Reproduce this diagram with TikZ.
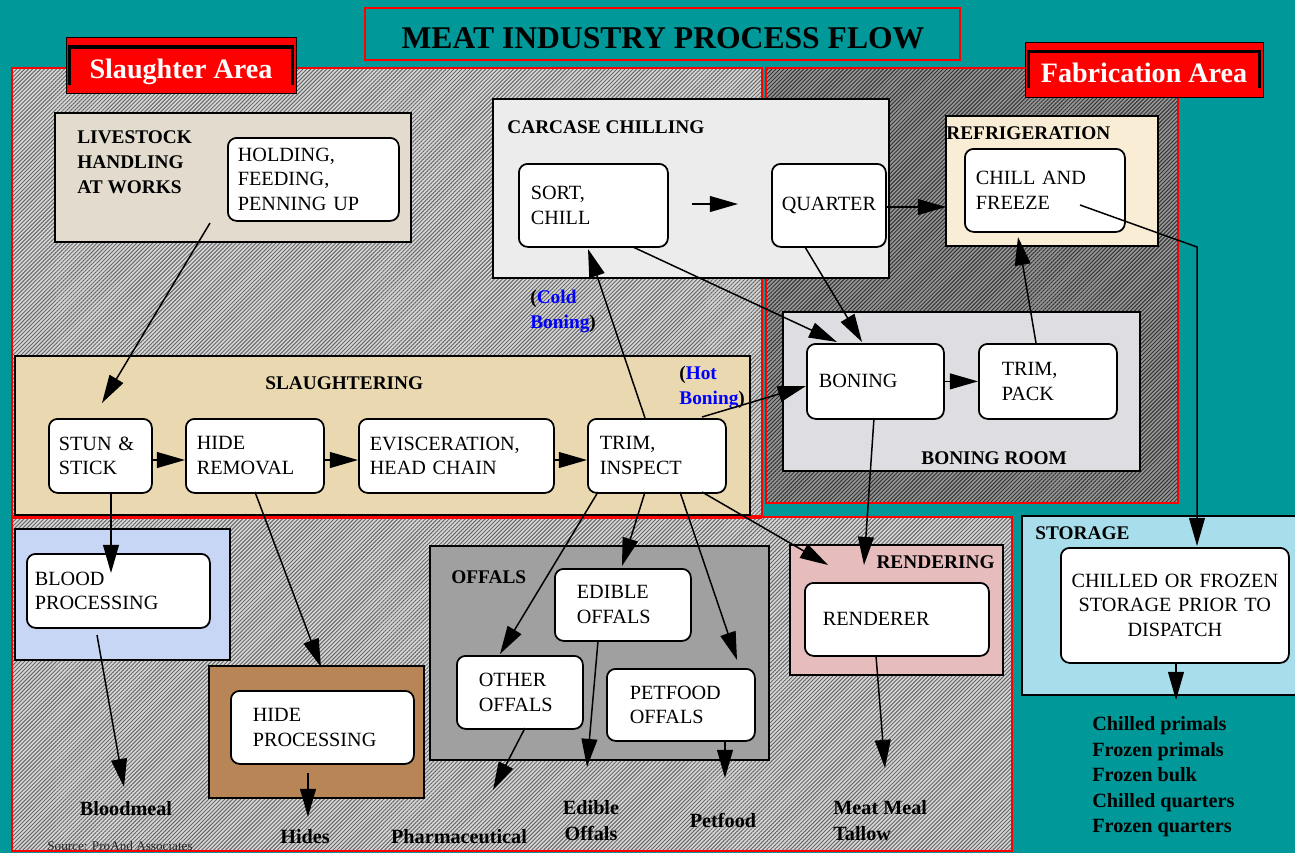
\documentclass[tikz,border=0pt]{standalone}
\usepackage{fontspec}
\setmainfont{Liberation Serif}
\usetikzlibrary{arrows.meta,patterns.meta}
\definecolor{tealbg}{RGB}{0,152,152}
\definecolor{hatchA}{RGB}{215,215,215}
\definecolor{hatchB}{RGB}{150,150,150}
\definecolor{beigeLS}{RGB}{226,219,206}
\definecolor{carcase}{RGB}{236,236,236}
\definecolor{refrig}{RGB}{250,237,214}
\definecolor{boningbg}{RGB}{222,222,226}
\definecolor{slaughterbg}{RGB}{234,216,176}
\definecolor{bloodbg}{RGB}{200,214,246}
\definecolor{hidebg}{RGB}{184,134,86}
\definecolor{offalbg}{RGB}{160,160,160}
\definecolor{renderbg}{RGB}{230,188,188}
\definecolor{storebg}{RGB}{168,222,236}
\definecolor{labelred}{RGB}{255,0,0}
\newcommand\boxfont{\fontsize{11.5}{14.2}\selectfont}
\newcommand\hdfont{\fontsize{11}{14.2}\selectfont\bfseries}
\newcommand\outfont{\fontsize{11.5}{14.6}\selectfont\bfseries}
\tikzset{
  proc/.style={draw=black, line width=1pt, fill=white, rounded corners=5pt, inner ysep=0pt, font=\boxfont},
  arr/.style={line width=0.85pt, -{Triangle[length=16pt,width=9pt]}},
  areabox/.style={draw=black, line width=1.2pt},
  hdlbl/.style={font=\hdfont, inner sep=0pt},
  outlbl/.style={font=\outfont, inner sep=0pt, align=left},
  arealbl/.style={font=\fontsize{16}{18}\selectfont\bfseries, text=white, inner sep=0pt},
  hatchlines/.style={pattern={Lines[angle=45,distance=1.6pt,line width=0.55pt]}, pattern color=#1},
}
\newcommand{\procbox}[8][]{%
  \pgfmathsetmacro{\pbtw}{(#5-#3-2*#7)*0.02}%
  \pgfmathsetmacro{\pbh}{(#6-#4)*0.02}%
  \pgfmathsetmacro{\pbpad}{#7*0.02}%
  \node[proc, anchor=north west, text width=\pbtw cm, minimum height=\pbh cm, inner xsep=\pbpad cm, align=left, #1] (#2) at (#3,#4) {#8};}
\begin{document}
\begin{tikzpicture}[x=0.02cm,y=-0.02cm]
\useasboundingbox (0,0) rectangle (1295,853);
\fill[tealbg] (0,0) rectangle (1295,853);
% big regions
\fill[hatchA] (12,68) rectangle (762,517);
\fill[hatchlines=black!60] (12,68) rectangle (762,517);
\fill[hatchB] (766,68) rectangle (1178,503);
\fill[hatchlines=black!80] (766,68) rectangle (1178,503);
\fill[hatchA] (12,517) rectangle (1012,851);
\fill[hatchlines=black!60] (12,517) rectangle (1012,851);
\draw[red, line width=0.6pt] (12,68) rectangle (762,517);
\draw[red, line width=0.6pt] (766,68) rectangle (1178,503);
\draw[red, line width=0.6pt] (12,517) rectangle (1012,851);
\draw[red, line width=1.8pt] (12,517) -- (762,517);
% title
\draw[labelred, line width=1.5pt] (365,8) rectangle (960,60);
\node[font=\fontsize{18}{20}\selectfont\bfseries, inner sep=0pt, anchor=base] (title) at (663,48) {MEAT INDUSTRY PROCESS FLOW};
% area labels
\draw[black, fill=labelred, line width=0.5pt] (66,37) rectangle (296,93);
\fill[black] (68,45) rectangle (294,49);
\fill[black] (68,45) rectangle (71,85);
\fill[black] (291,45) rectangle (294,85);
\node[arealbl, anchor=base] (slarea) at (181,78) {Slaughter Area};
\draw[black, fill=labelred, line width=0.5pt] (1025,42) rectangle (1263,97);
\fill[black] (1027,50) rectangle (1261,53);
\fill[black] (1027,50) rectangle (1030,88);
\fill[black] (1258,50) rectangle (1261,88);
\node[arealbl, anchor=base] (fabarea) at (1144,82) {Fabrication Area};
% group boxes
\draw[areabox, fill=beigeLS] (55,113) rectangle (411,242);
\node[hdlbl, anchor=north west, align=left] (lslbl) at (77,130) {LIVESTOCK\\HANDLING\\AT WORKS};
\draw[areabox, fill=carcase] (493,99) rectangle (889,278);
\node[hdlbl, anchor=base west] (cclbl) at (507,133) {CARCASE CHILLING};
\draw[areabox, fill=refrig] (946,116) rectangle (1158,246);
\node[hdlbl, anchor=base west] (rflbl) at (946,139) {REFRIGERATION};
\draw[areabox, fill=boningbg] (783,312) rectangle (1140,471);
\node[hdlbl, anchor=base west] (brlbl) at (921,464) {BONING ROOM};
\draw[areabox, fill=slaughterbg] (15,356) rectangle (750,515);
\node[hdlbl, anchor=base west] (sllbl) at (265,389) {SLAUGHTERING};
\draw[areabox, fill=bloodbg] (15,529) rectangle (230,660);
\draw[areabox, fill=hidebg] (209,666) rectangle (424,798);
\draw[areabox, fill=offalbg] (430,546) rectangle (769,760);
\node[hdlbl, anchor=base west] (oflbl) at (451,583) {OFFALS};
\draw[areabox, fill=renderbg] (790,545) rectangle (1003,675);
\node[hdlbl, anchor=base east] (rdlbl) at (995,568) {RENDERING};
\draw[areabox, fill=storebg] (1022,516) rectangle (1300,695);
\node[hdlbl, anchor=base west] (stlbl) at (1035,539) {STORAGE};
% process boxes
\procbox{hold}{227}{137}{398}{220}{10}{HOLDING,\\FEEDING,\\PENNING UP}
\procbox{sort}{518}{163}{667}{246}{12}{SORT,\\CHILL}
\procbox[align=center]{quarter}{771}{163}{885}{246}{4}{QUARTER}
\procbox{chill}{964}{148}{1124}{231}{11}{CHILL AND\\FREEZE}
\procbox{boning}{806}{343}{943}{418}{12}{BONING}
\procbox{trimpack}{978}{343}{1116}{418}{23}{TRIM,\\PACK}
\procbox{stun}{48}{418}{151}{492}{10}{STUN \&\\STICK}
\procbox{hide}{185}{418}{323}{492}{11}{HIDE\\REMOVAL}
\procbox{evisc}{358}{418}{553}{492}{11}{EVISCERATION,\\HEAD CHAIN}
\procbox{trim}{587}{418}{725}{492}{12}{TRIM,\\INSPECT}
\procbox{blood}{26}{553}{209}{627}{8}{BLOOD\\PROCESSING}
\procbox{hideproc}{230}{690}{413}{763}{22}{HIDE\\PROCESSING}
\procbox{edible}{554}{568}{690}{640}{22}{EDIBLE\\OFFALS}
\procbox{other}{456}{655}{582}{728}{22}{OTHER\\OFFALS}
\procbox{petfood}{606}{668}{754}{740}{23}{PETFOOD\\OFFALS}
\procbox{renderer}{804}{582}{988}{655}{18}{RENDERER}
\procbox[align=center]{store}{1060}{547}{1288}{662}{4}{CHILLED OR FROZEN\\STORAGE PRIOR TO\\DISPATCH}
% notes
\node[hdlbl, anchor=north west, align=left] (cold) at (530,290) {(\textcolor{blue}{Cold}\\\textcolor{blue}{Boning})};
\node[hdlbl, anchor=north west, align=left] (hot) at (679,366) {(\textcolor{blue}{Hot}\\\textcolor{blue}{Boning})};
% outputs
\node[outlbl, anchor=base] (bloodmeal) at (126,815) {Bloodmeal};
\node[outlbl, anchor=base] (hides) at (305,843) {Hides};
\node[outlbl, anchor=base] (pharma) at (459,843) {Pharmaceutical};
\node[outlbl, anchor=north, align=center] (edout) at (591,800) {Edible\\Offals};
\node[outlbl, anchor=base] (pfout) at (723,827) {Petfood};
\node[outlbl, anchor=north west] (mmout) at (833,800) {Meat Meal\\Tallow};
\node[outlbl, anchor=north west] (stout) at (1092,716) {Chilled primals\\Frozen primals\\Frozen bulk\\Chilled quarters\\Frozen quarters};
\node[font=\fontsize{7.5}{9}\selectfont, inner sep=0pt, anchor=base west, text=black!85] (src) at (47,850) {Source: ProAnd Associates};
% connector end points
\coordinate (lsA) at (210,223); \coordinate (stunT) at (102,403);
\coordinate (rowY) at (0,460);
\coordinate (stunB) at (111,492); \coordinate (bloodT) at (111,573);
\coordinate (bloodB) at (97,635); \coordinate (bmT) at (124,787);
\coordinate (hideB) at (255,492); \coordinate (hpT) at (321,667);
\coordinate (hpB) at (308,773); \coordinate (hidesT) at (308,817);
\coordinate (trimT1) at (645,418); \coordinate (sortB) at (588,249);
\coordinate (trimT2) at (702,417); \coordinate (boningW) at (806,386);
\coordinate (sortB2) at (633,247); \coordinate (boningT1) at (837,342);
\coordinate (quarterB) at (805,247); \coordinate (boningT2) at (862,342);
\coordinate (scA) at (692,204); \coordinate (scB) at (738,204);
\coordinate (qE) at (885,207); \coordinate (refW) at (946,207);
\coordinate (tpT) at (1036,343); \coordinate (cfB) at (1018,237);
\coordinate (cfIn) at (1080,205); \coordinate (bend) at (1197,247); \coordinate (stT) at (1197,546);
\coordinate (bonB) at (874,418); \coordinate (rendT1) at (864,565);
\coordinate (trimB4) at (702,492); \coordinate (rendT2) at (828,565);
\coordinate (trimB1) at (598,492); \coordinate (otherT) at (500,654);
\coordinate (trimB2) at (645,492); \coordinate (edT) at (622,566);
\coordinate (trimB3) at (680,492); \coordinate (pfT) at (737,660);
\coordinate (rrB) at (876,656); \coordinate (mmT) at (885,768);
\coordinate (otB) at (525,728); \coordinate (phT) at (493,790);
\coordinate (edB) at (598,641); \coordinate (eoT) at (587,767);
\coordinate (pfB) at (725,740); \coordinate (pfoT) at (725,778);
\coordinate (stB) at (1176,662); \coordinate (stO) at (1176,700);
% connectors
\draw[arr] (lsA) -- (stunT);
\draw[arr] (stun.east |- rowY) -- (hide.west |- rowY);
\draw[arr] (hide.east |- rowY) -- (evisc.west |- rowY);
\draw[arr] (evisc.east |- rowY) -- (trim.west |- rowY);
\draw[arr] (stunB) -- (bloodT);
\draw[arr] (bloodB) -- (bmT);
\draw[arr] (hideB) -- (hpT);
\draw[arr] (hpB) -- (hidesT);
\draw[arr] (trimT1) -- (sortB);
\draw[arr] (trimT2) -- (boningW);
\draw[arr] (sortB2) -- (boningT1);
\draw[arr] (quarterB) -- (boningT2);
\draw[arr] (scA) -- (scB);
\draw[arr] (qE) -- (refW);
\draw[arr] (boning.east) -- (trimpack.west);
\draw[arr] (tpT) -- (cfB);
\draw[arr] (cfIn) -- (bend) -- (stT);
\draw[arr] (bonB) -- (rendT1);
\draw[arr] (trimB4) -- (rendT2);
\draw[arr] (trimB1) -- (otherT);
\draw[arr] (trimB2) -- (edT);
\draw[arr] (trimB3) -- (pfT);
\draw[arr] (rrB) -- (mmT);
\draw[arr] (otB) -- (phT);
\draw[arr] (edB) -- (eoT);
\draw[arr] (pfB) -- (pfoT);
\draw[arr] (stB) -- (stO);
\end{tikzpicture}
\end{document}
